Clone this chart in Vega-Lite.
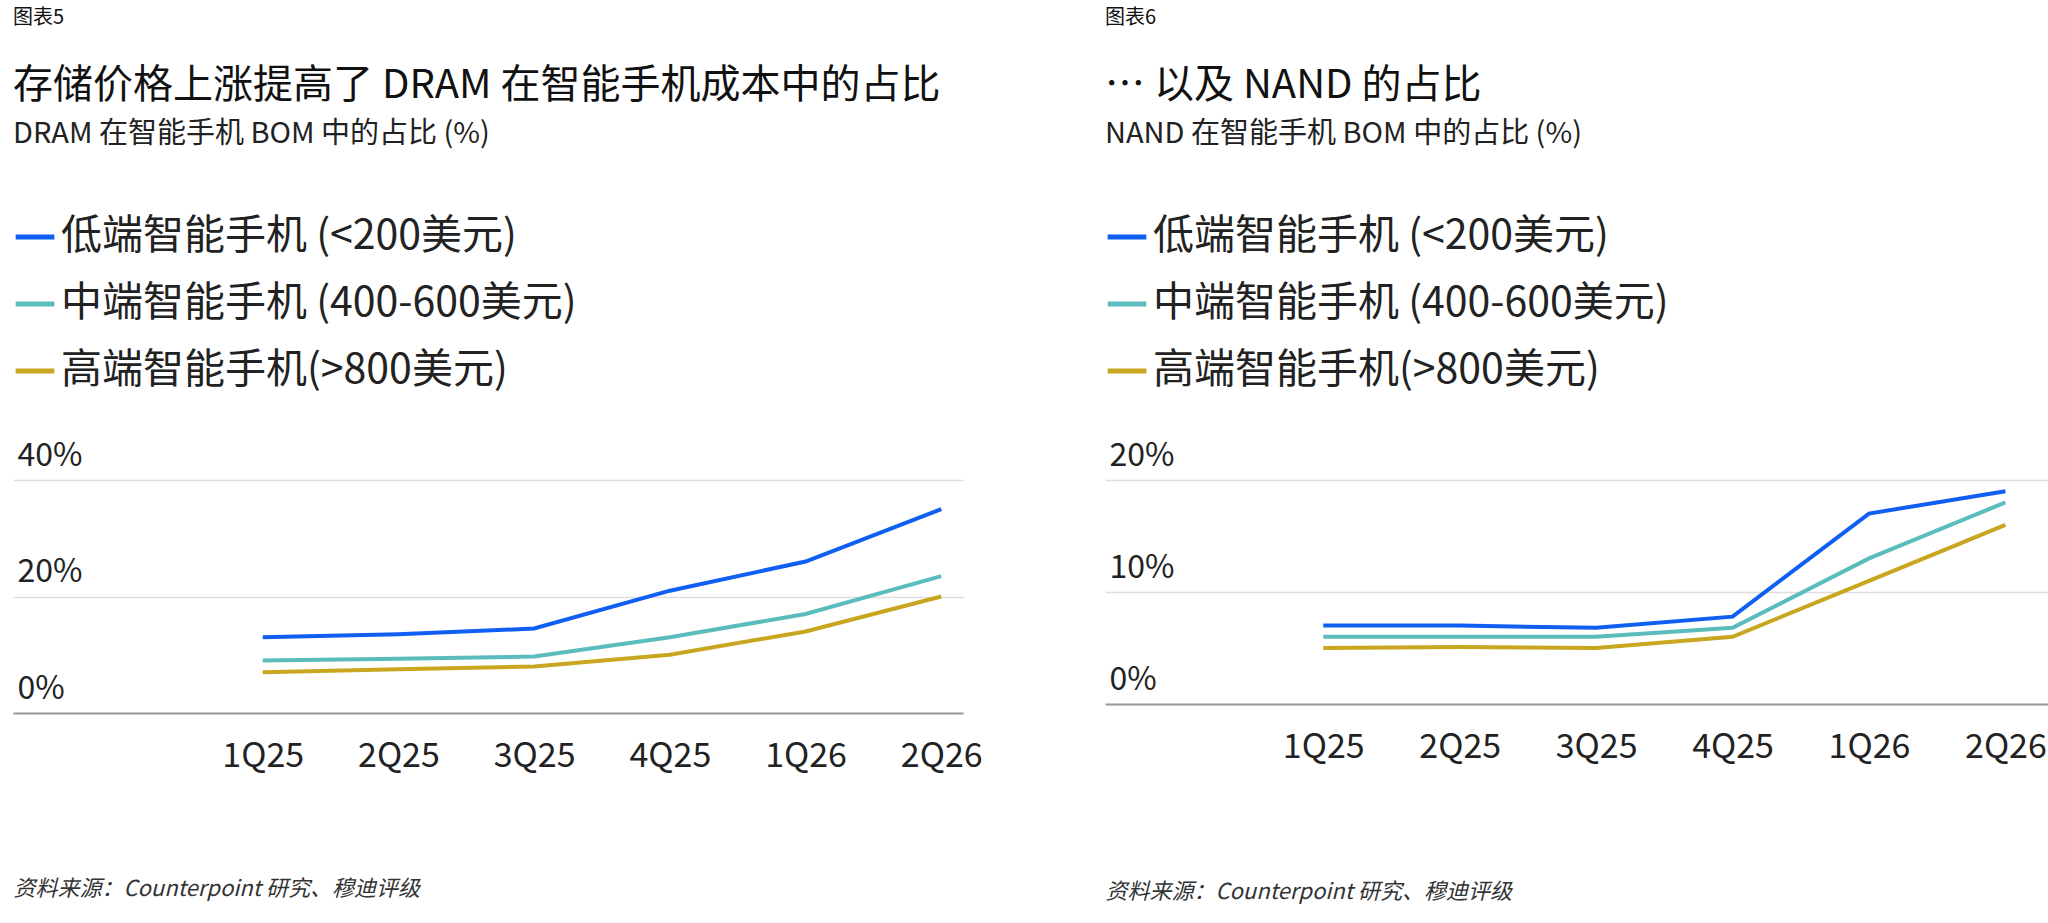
{
  "$schema": "https://vega.github.io/schema/vega-lite/v6.json",
  "background": "white",
  "padding": {"left": 13, "top": 8, "right": 8, "bottom": 8},
  "config": {
    "font": "Noto Sans CJK SC",
    "view": {"stroke": null},
    "concat": {"spacing": 122},
    "title": {"anchor": "start", "color": "#111", "fontWeight": "normal"},
    "axis": {"labelColor": "#222", "titleColor": "#333"}
  },
  "resolve": {"legend": {"color": "independent"}},
  "datasets": {
    "dram": [
      {"q": "1Q25", "s": "低端智能手机 (<200美元)", "v": 13},
      {"q": "2Q25", "s": "低端智能手机 (<200美元)", "v": 13.5},
      {"q": "3Q25", "s": "低端智能手机 (<200美元)", "v": 14.5},
      {"q": "4Q25", "s": "低端智能手机 (<200美元)", "v": 21},
      {"q": "1Q26", "s": "低端智能手机 (<200美元)", "v": 26},
      {"q": "2Q26", "s": "低端智能手机 (<200美元)", "v": 35},
      {"q": "1Q25", "s": "中端智能手机 (400-600美元)", "v": 9},
      {"q": "2Q25", "s": "中端智能手机 (400-600美元)", "v": 9.3},
      {"q": "3Q25", "s": "中端智能手机 (400-600美元)", "v": 9.7},
      {"q": "4Q25", "s": "中端智能手机 (400-600美元)", "v": 13},
      {"q": "1Q26", "s": "中端智能手机 (400-600美元)", "v": 17},
      {"q": "2Q26", "s": "中端智能手机 (400-600美元)", "v": 23.5},
      {"q": "1Q25", "s": "高端智能手机(>800美元)", "v": 7},
      {"q": "2Q25", "s": "高端智能手机(>800美元)", "v": 7.5},
      {"q": "3Q25", "s": "高端智能手机(>800美元)", "v": 8},
      {"q": "4Q25", "s": "高端智能手机(>800美元)", "v": 10},
      {"q": "1Q26", "s": "高端智能手机(>800美元)", "v": 14},
      {"q": "2Q26", "s": "高端智能手机(>800美元)", "v": 20}
    ],
    "nand": [
      {"q": "1Q25", "s": "低端智能手机 (<200美元)", "v": 7},
      {"q": "2Q25", "s": "低端智能手机 (<200美元)", "v": 7},
      {"q": "3Q25", "s": "低端智能手机 (<200美元)", "v": 6.8},
      {"q": "4Q25", "s": "低端智能手机 (<200美元)", "v": 7.8},
      {"q": "1Q26", "s": "低端智能手机 (<200美元)", "v": 17},
      {"q": "2Q26", "s": "低端智能手机 (<200美元)", "v": 19},
      {"q": "1Q25", "s": "中端智能手机 (400-600美元)", "v": 6},
      {"q": "2Q25", "s": "中端智能手机 (400-600美元)", "v": 6},
      {"q": "3Q25", "s": "中端智能手机 (400-600美元)", "v": 6},
      {"q": "4Q25", "s": "中端智能手机 (400-600美元)", "v": 6.8},
      {"q": "1Q26", "s": "中端智能手机 (400-600美元)", "v": 13},
      {"q": "2Q26", "s": "中端智能手机 (400-600美元)", "v": 18},
      {"q": "1Q25", "s": "高端智能手机(>800美元)", "v": 5},
      {"q": "2Q25", "s": "高端智能手机(>800美元)", "v": 5.1},
      {"q": "3Q25", "s": "高端智能手机(>800美元)", "v": 5},
      {"q": "4Q25", "s": "高端智能手机(>800美元)", "v": 6},
      {"q": "1Q26", "s": "高端智能手机(>800美元)", "v": 11},
      {"q": "2Q26", "s": "高端智能手机(>800美元)", "v": 16}
    ]
  },
  "hconcat": [
    {
      "title": {"text": "图表5", "fontSize": 20, "offset": 38},
      "vconcat": [
        {
          "title": {
            "text": "存储价格上涨提高了 DRAM 在智能手机成本中的占比",
            "fontSize": 40,
            "subtitle": "DRAM 在智能手机 BOM 中的占比 (%)",
            "subtitleFontSize": 29,
            "subtitleColor": "#222",
            "subtitlePadding": 14,
            "offset": 290
          },
          "width": 950,
          "height": 233,
          "data": {"name": "dram"},
          "mark": {"type": "line", "strokeWidth": 4},
          "encoding": {
            "x": {
              "field": "q", "type": "ordinal", "sort": null,
              "scale": {"type": "point", "padding": 1.25, "align": 0.92},
              "axis": {
                "title": "资料来源：Counterpoint 研究、穆迪评级",
                "titleFontSize": 22, "titleFontStyle": "italic", "titleFontWeight": "normal",
                "titleAnchor": "start", "titleAlign": "left", "titleX": 0, "titleY": 165,
                "labelFontSize": 34, "labelPadding": 26, "ticks": false,
                "domainColor": "#999", "domainWidth": 2, "labelAngle": 0
              }
            },
            "y": {
              "field": "v", "type": "quantitative",
              "scale": {"domain": [0, 40]},
              "axis": {
                "title": null, "values": [0, 20, 40], "format": ".0f", "labelExpr": "datum.label + '%'",
                "orient": "left", "labelAlign": "left", "labelBaseline": "bottom",
                "labelPadding": -4, "labelOffset": -8, "labelFontSize": 32,
                "ticks": false, "domain": false, "gridColor": "#dddddd", "gridWidth": 1.5
              }
            },
            "color": {
              "field": "s", "type": "nominal",
              "scale": {
                "domain": ["低端智能手机 (<200美元)", "中端智能手机 (400-600美元)", "高端智能手机(>800美元)"],
                "range": ["#0f5ff2", "#5bbcbd", "#c8a620"]
              },
              "legend": {
                "title": null, "orient": "none", "legendX": 0, "legendY": -265,
                "symbolType": "stroke", "symbolStrokeWidth": 5, "symbolSize": 1500,
                "labelFontSize": 41, "labelColor": "#222", "rowPadding": 25, "labelLimit": 800
              }
            }
          }
        }
      ]
    },
    {
      "title": {"text": "图表6", "fontSize": 20, "offset": 38},
      "vconcat": [
        {
          "title": {
            "text": "… 以及 NAND 的占比",
            "fontSize": 40,
            "subtitle": "NAND 在智能手机 BOM 中的占比 (%)",
            "subtitleFontSize": 29,
            "subtitleColor": "#222",
            "subtitleFontWeight": "normal",
            "subtitlePadding": 14,
            "offset": 290
          },
          "width": 955,
          "height": 224,
          "data": {"name": "nand"},
          "mark": {"type": "line", "strokeWidth": 4},
          "encoding": {
            "x": {
              "field": "q", "type": "ordinal", "sort": null,
              "scale": {"type": "point", "padding": 1.49, "align": 0.8},
              "axis": {
                "title": "资料来源：Counterpoint 研究、穆迪评级",
                "titleFontSize": 22, "titleFontStyle": "italic", "titleFontWeight": "normal",
                "titleAnchor": "start", "titleAlign": "left", "titleX": 0, "titleY": 177,
                "labelFontSize": 34, "labelPadding": 26, "ticks": false,
                "domainColor": "#999", "domainWidth": 2, "labelAngle": 0
              }
            },
            "y": {
              "field": "v", "type": "quantitative",
              "scale": {"domain": [0, 20]},
              "axis": {
                "title": null, "values": [0, 10, 20], "format": ".0f", "labelExpr": "datum.label + '%'",
                "orient": "left", "labelAlign": "left", "labelBaseline": "bottom",
                "labelPadding": -4, "labelOffset": -8, "labelFontSize": 32,
                "ticks": false, "domain": false, "gridColor": "#dddddd", "gridWidth": 1.5
              }
            },
            "color": {
              "field": "s", "type": "nominal",
              "scale": {
                "domain": ["低端智能手机 (<200美元)", "中端智能手机 (400-600美元)", "高端智能手机(>800美元)"],
                "range": ["#0f5ff2", "#5bbcbd", "#c8a620"]
              },
              "legend": {
                "title": null, "orient": "none", "legendX": 0, "legendY": -265,
                "symbolType": "stroke", "symbolStrokeWidth": 5, "symbolSize": 1500,
                "labelFontSize": 41, "labelColor": "#222", "rowPadding": 25, "labelLimit": 800
              }
            }
          }
        }
      ]
    }
  ]
}
